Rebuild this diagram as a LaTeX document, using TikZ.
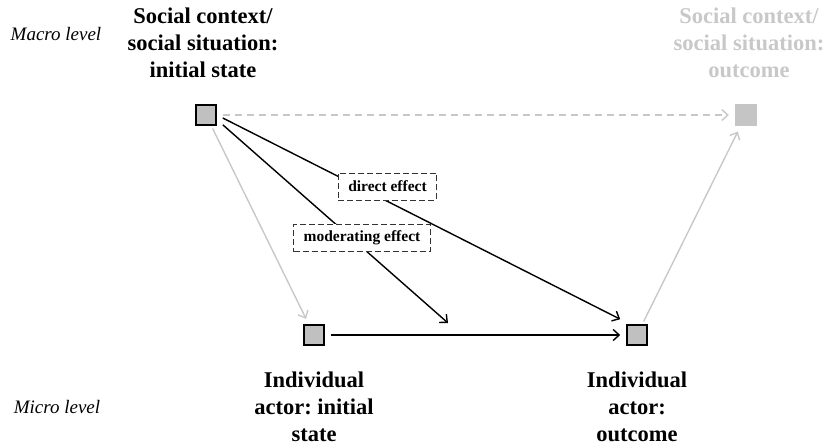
\documentclass[tikz,border=0pt]{standalone}
\usepackage{fontspec}
\setmainfont{Liberation Serif}
\usetikzlibrary{arrows.meta,calc}
\definecolor{boxgray}{RGB}{192,192,192}
\definecolor{fadegray}{RGB}{200,200,200}
\definecolor{fadefill}{RGB}{197,197,197}
\frenchspacing

\begin{document}
\begin{tikzpicture}[x=1pt,y=-1pt,
  state/.style={draw=black,line width=1.6pt,fill=boxgray,minimum size=20pt,inner sep=0pt},
  ghost/.style={fill=fadefill,minimum size=22pt,inner sep=0pt},
  head/.style={font=\fontsize{22.5}{27}\selectfont\bfseries,align=center,inner ysep=0pt},
  level/.style={font=\fontsize{19}{22}\selectfont\itshape},
  effect/.style={draw=black!80,line width=0.9pt,dash pattern=on 6pt off 3pt,fill=white,
    font=\fontsize{15.5}{18}\selectfont\bfseries,inner xsep=10pt,inner ysep=0pt,minimum height=27pt},
  tip/.style={-{Straight Barb[length=6pt,width=11pt,line width=1.4pt]}},
  link/.style={tip,draw=black,line width=1.4pt},
  faint/.style={tip,draw=fadegray,line width=1.4pt}
]
\useasboundingbox (0,0) rectangle (826,446);

% level captions
\node[level] (macro) at (56,34) {Macro level};
\node[level] (micro) at (57,407) {Micro level};

% the four states
\node[state] (s1) at (206,115) {};
\node[ghost] (s2) at (746,115) {};
\node[state] (s3) at (314,335) {};
\node[state] (s4) at (637,335) {};

% state captions
\node[head,anchor=north] (h1) at (203,8) {Social context/\\social situation:\\initial state};
\node[head,anchor=north,text=fadegray] (h2) at (749,8) {Social context/\\social situation:\\outcome};
\node[head,anchor=south] (h3) at (314,442) {Individual\\actor: initial\\state};
\node[head,anchor=south] (h4) at (637,442) {Individual\\actor:\\outcome};

% macro-level and bridge relations (faded)
\draw[faint,dash pattern=on 7pt off 5pt,shorten <=6pt,shorten >=6pt] (s1) -- (s2);
\draw[faint,shorten <=3pt,shorten >=6pt] (s1) -- (s3);
\draw[faint,shorten <=3pt,shorten >=6pt] (s4) -- (s2);

% micro-level relation
\draw[link,shorten <=6pt,shorten >=6pt] (s3) -- (s4);

% effects of the initial context
\coordinate (dstart) at ($(s1.east)+(6,3)$);
\coordinate (dend) at ($(s4.north west)+(-6,-5)$);
\coordinate (mstart) at ($(s1.south east)+(6,-1)$);
\coordinate (mend) at (448,323);
\draw[link] (dstart) -- (dend);
\draw[link] (mstart) -- (mend);

\node[effect] (direct) at (387.5,186.5) {direct effect};
\node[effect] (moderating) at (362,238) {moderating effect};
\end{tikzpicture}
\end{document}
